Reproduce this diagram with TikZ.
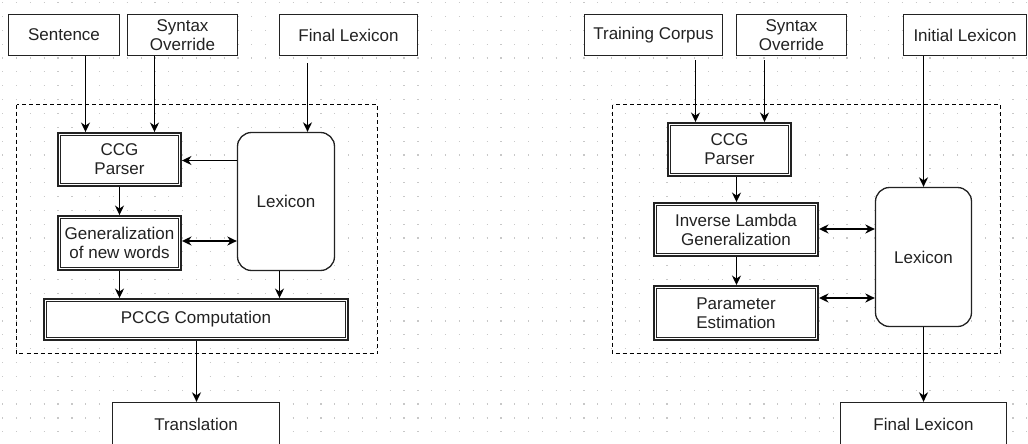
\documentclass[tikz,border=0pt]{standalone}
\usepackage{fontspec}
\setmainfont{Liberation Sans}
\usetikzlibrary{arrows.meta}
\definecolor{edge}{HTML}{222222}
\definecolor{dotc}{HTML}{C8C8C8}
\tikzset{
  box/.style={draw=edge, line width=1.3pt, fill=white, inner sep=0pt, align=center,
    font=\fontsize{17}{19}\selectfont, text=edge},
  dbox/.style={box, line width=4.4pt, outer sep=2.2pt, postaction={draw=white, line width=1.4pt}},
  rbox/.style={box, rounded corners=14pt},
  arr/.style={draw=black, line width=1.45pt, -{Stealth[length=9.5pt,width=9pt,inset=3pt]}},
  darr/.style={draw=black, line width=2pt, {Stealth[length=9.5pt,width=9pt,inset=3pt]}-{Stealth[length=9.5pt,width=9pt,inset=3pt]}},
  container/.style={draw=black, line width=1pt, dash pattern=on 4pt off 3pt},
  dotrow/.style={draw=dotc, line width=1.2pt, dash pattern=on 1.2pt off 12.64pt}
}
\begin{document}
\begin{tikzpicture}[x=1pt,y=-1pt]
\useasboundingbox (0,0) rectangle (1028,444);
\clip (0,0) rectangle (1028,444);
\fill[white] (0,0) rectangle (1028,444);
% dotted grid
\foreach \k in {0,...,31} {
  \draw[dotrow] (2.1,{2.7+\k*13.84}) -- (1028,{2.7+\k*13.84});
}
% ---------------- left diagram ----------------
\draw[container] (16.5,104.5) rectangle (377.5,353.5);
\node[box, minimum width=111pt, minimum height=41pt] (sent) at (64,35) {Sentence};
\node[box, minimum width=110pt, minimum height=41pt] (synA) at (182.5,35) {Syntax\\Override};
\node[box, minimum width=138pt, minimum height=41pt] (finA) at (348.5,35) {Final Lexicon};
\node[dbox, minimum width=120.5pt, minimum height=50.5pt] (ccgA) at (119.5,159.5) {CCG\\Parser};
\node[rbox, minimum width=97pt, minimum height=138pt] (lexA) at (286,201.5) {Lexicon};
\node[dbox, minimum width=120.5pt, minimum height=51.5pt] (gen) at (119.5,243) {Generalization\\of new words};
\node[dbox, minimum width=301.5pt, minimum height=38.5pt] (pccg) at (196,319.5) {PCCG Computation};
\node[box, minimum width=167pt, minimum height=43pt] (trans) at (196,424) {Translation};

\coordinate (xa1) at (85.5,0);
\coordinate (xa2) at (154.5,0);
\coordinate (xa3) at (307.5,0);
\coordinate (xa4) at (279.5,0);
\coordinate (xa5) at (196.5,0);
\coordinate (ya1) at (0,241);
\coordinate (ya2) at (0,160.5);
\draw[arr] (sent.south -| xa1) -- (ccgA.north -| xa1);
\draw[arr] (synA.south -| xa2) -- (ccgA.north -| xa2);
\draw[arr, shorten <=7pt] (finA.south -| xa3) -- (lexA.north -| xa3);
\draw[arr] (lexA.west |- ya2) -- (ccgA.east |- ya2);
\draw[arr] (ccgA.south) -- (gen.north);
\draw[darr] (gen.east |- ya1) -- (lexA.west |- ya1);
\draw[arr] (gen.south) -- (gen.south |- pccg.north);
\draw[arr] (lexA.south -| xa4) -- (pccg.north -| xa4);
\draw[arr] (pccg.south -| xa5) -- (trans.north -| xa5);

% ---------------- right diagram ----------------
\draw[container] (612.5,104.5) rectangle (1000.5,353.5);
\node[box, minimum width=138pt, minimum height=41pt] (train) at (653.5,35) {Training Corpus};
\node[box, minimum width=110pt, minimum height=41pt] (synB) at (791.5,35) {Syntax\\Override};
\node[box, minimum width=123pt, minimum height=41pt] (init) at (965,35) {Initial Lexicon};
\node[dbox, minimum width=120.5pt, minimum height=50.5pt] (ccgB) at (729.5,149.5) {CCG\\Parser};
\node[dbox, minimum width=161.5pt, minimum height=50.5pt] (inv) at (736,229.5) {Inverse Lambda\\Generalization};
\node[dbox, minimum width=161.5pt, minimum height=51.5pt] (param) at (736,313) {Parameter\\Estimation};
\node[rbox, minimum width=96pt, minimum height=139pt] (lexB) at (923.5,257) {Lexicon};
\node[box, minimum width=166pt, minimum height=43pt] (finB) at (923.5,424) {Final Lexicon};

\coordinate (xb1) at (695.5,0);
\coordinate (xb2) at (764.5,0);
\coordinate (xb3) at (736.5,0);
\coordinate (yb1) at (0,298);
\coordinate (yb2) at (0,229);
\draw[arr, shorten <=4pt] (train.south -| xb1) -- (ccgB.north -| xb1);
\draw[arr, shorten <=4pt] (synB.south -| xb2) -- (ccgB.north -| xb2);
\draw[arr] (init.south -| lexB.north) -- (lexB.north);
\draw[arr] (ccgB.south -| xb3) -- (inv.north -| xb3);
\draw[arr] (inv.south -| xb3) -- (param.north -| xb3);
\draw[darr] (inv.east |- yb2) -- (lexB.west |- yb2);
\draw[darr] (param.east |- yb1) -- (lexB.west |- yb1);
\draw[arr] (lexB.south) -- (finB.north);
\end{tikzpicture}
\end{document}
